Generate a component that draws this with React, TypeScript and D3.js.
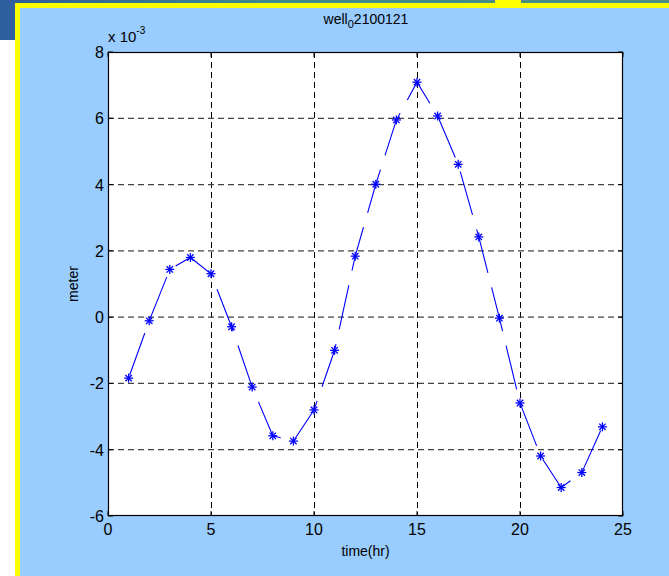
import React from "react";
import * as d3 from "d3";

// time in hours
const hours = [1,2,3,4,5,6,7,8,9,10,11,12,13,14,15,16,17,18,19,20,21,22,23,24];
// displacement in units of 10^-3 meter
const meterE3 = [-1.84,-0.11,1.44,1.80,1.31,-0.29,-2.11,-3.58,-3.74,-2.80,-1.00,1.84,4.01,5.95,7.09,6.07,4.61,2.42,-0.03,-2.59,-4.19,-5.14,-4.69,-3.31];
const xTicks = [0,5,10,15,20,25];
const yTicks = [-6,-4,-2,0,2,4,6,8];

const W = 669, H = 576;
const X0 = 108, X1 = 623, Y0 = 52, Y1 = 516;

export default function App() {
  const x = d3.scaleLinear().domain([0, 25]).range([X0, X1]);
  const y = d3.scaleLinear().domain([-6, 8]).range([Y1, Y0]);
  const line = d3.line<number>().x((_, i) => x(hours[i])).y(d => y(d));
  const font = "'Liberation Sans', Arial, Helvetica, sans-serif";
  const blue = "#0000FF";
  return (
    <svg width={W} height={H} style={{ position: "absolute", left: 0, top: 0 }} fontFamily={font}>
      <defs>
        <linearGradient id="band" x1="0" x2="1" y1="0" y2="0">
          <stop offset="0" stopColor="#2d5c98" />
          <stop offset="0.4" stopColor="#3f8a8c" />
          <stop offset="1" stopColor="#4c8f80" />
        </linearGradient>
      </defs>
      <rect x={0} y={0} width={W} height={H} fill="#99CCFF" />
      <rect x={0} y={0} width={W} height={4} fill="url(#band)" />
      <rect x={0} y={0} width={16} height={40} fill="#2f5f9e" />
      <rect x={0} y={40} width={16} height={H - 40} fill="#ffffff" />
      <rect x={15} y={3} width={5} height={H - 3} fill="#ffff00" />
      <rect x={15} y={3} width={W - 15} height={5} fill="#ffff00" />
      <rect x={495} y={0} width={26} height={4} fill="#ffff00" />
      <rect x={20} y={8} width={W - 20} height={H - 8} fill="#99CCFF" />
      {/* plot area */}
      <rect x={X0} y={Y0} width={X1 - X0} height={Y1 - Y0} fill="#ffffff" />
      {/* grid */}
      {xTicks.slice(1, -1).map(t => (
        <line key={"gx" + t} x1={Math.round(x(t)) + 0.5} x2={Math.round(x(t)) + 0.5} y1={Y0} y2={Y1}
          stroke="#000" strokeWidth={1} strokeDasharray="6,4" />
      ))}
      {yTicks.slice(1, -1).map(t => (
        <line key={"gy" + t} x1={X0} x2={X1} y1={y(t)} y2={y(t)}
          stroke="#444" strokeWidth={1.2} strokeDasharray="6,4" />
      ))}
      {/* ticks */}
      {xTicks.map(t => (
        <g key={"tx" + t}>
          <line x1={x(t)} x2={x(t)} y1={Y1} y2={Y1 - 5} stroke="#000" />
          <line x1={x(t)} x2={x(t)} y1={Y0} y2={Y0 + 5} stroke="#000" />
          <text x={x(t)} y={535} fontSize={16} textAnchor="middle" fill="#000">{t}</text>
        </g>
      ))}
      {yTicks.map(t => (
        <g key={"ty" + t}>
          <line x1={X0} x2={X0 + 5} y1={y(t)} y2={y(t)} stroke="#000" />
          <line x1={X1} x2={X1 - 5} y1={y(t)} y2={y(t)} stroke="#000" />
          <text x={X0 - 4} y={y(t) + 6} fontSize={16} textAnchor="end" fill="#000">{t}</text>
        </g>
      ))}
      <rect x={X0 + 0.5} y={Y0 + 0.5} width={X1 - X0 - 1} height={Y1 - Y0 - 1} fill="none" stroke="#000" strokeWidth={1.2} />
      {/* data line */}
      <path d={line(meterE3) || ""} fill="none" stroke={blue} strokeWidth={1.1}
        strokeDasharray="45,15" strokeDashoffset={57} />
      {meterE3.map((v, i) => {
        const cx = x(hours[i]), cy = y(v);
        return (
          <g key={"m" + i} stroke={blue} strokeWidth={1.3}>
            <line x1={cx - 4.5} x2={cx + 4.5} y1={cy} y2={cy} />
            <line x1={cx} x2={cx} y1={cy - 4.5} y2={cy + 4.5} />
            <line x1={cx - 3.2} x2={cx + 3.2} y1={cy - 3.2} y2={cy + 3.2} />
            <line x1={cx - 3.2} x2={cx + 3.2} y1={cy + 3.2} y2={cy - 3.2} />
          </g>
        );
      })}
      {/* labels */}
      <text x={366} y={24} fontSize={14} textAnchor="middle" fill="#000">
        well<tspan fontSize={11} dy={4}>0</tspan><tspan dy={-4}>2100121</tspan>
      </text>
      <text x={108} y={42} fontSize={15} fill="#000">
        x 10<tspan fontSize={10} dy={-8}>-3</tspan>
      </text>
      <text x={(X0 + X1) / 2} y={556} fontSize={14} textAnchor="middle" fill="#000">time(hr)</text>
      <text transform={`translate(78, ${(Y0 + Y1) / 2}) rotate(-90)`} fontSize={14} textAnchor="middle" fill="#000">meter</text>
    </svg>
  );
}
